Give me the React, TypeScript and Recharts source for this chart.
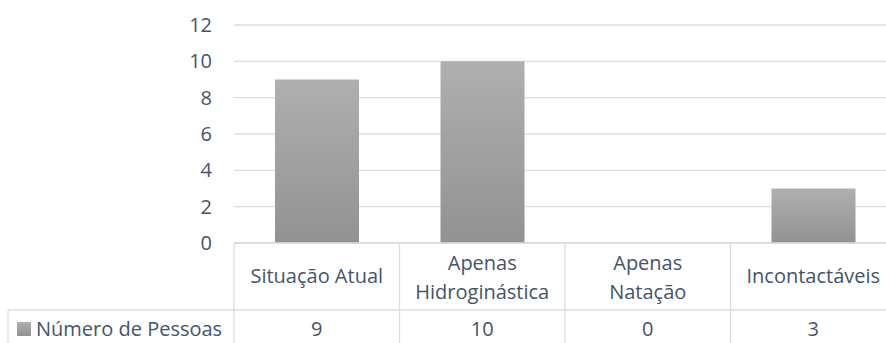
import React from 'react';
import { BarChart, Bar, XAxis, YAxis, CartesianGrid } from 'recharts';

const categories = ['Situação Atual', 'Apenas Hidroginástica', 'Apenas Natação', 'Incontactáveis'];
const tickLabels = [['Situação Atual'], ['Apenas', 'Hidroginástica'], ['Apenas', 'Natação'], ['Incontactáveis']];
const pessoas = [9, 10, 0, 3];
const yTicks = [0, 2, 4, 6, 8, 10, 12];
const seriesName = 'Número de Pessoas';

const data = categories.map((name, i) => ({ name, value: pessoas[i] }));

const FONT = '"Open Sans", sans-serif';
const TEXT = '#44546A';
const LINE = '#d9dde3';

// chart geometry
const W = 900;
const H = 343;
const MARGIN = { top: 25, right: 4, bottom: 0, left: 0 };
const Y_WIDTH = 234;
const X_HEIGHT = 100;
const TABLE_LEFT = 8;

const TableTick = (props: any) => {
  const { x, y, index } = props;
  const plotW = W - MARGIN.left - MARGIN.right - Y_WIDTH;
  const bw = plotW / categories.length;
  const left = x - bw / 2;
  const rowY = y + 67;
  const lines = tickLabels[index] || [];
  const baselines = lines.length > 1 ? [27, 56] : [40];
  return (
    <g>
      <line x1={left} y1={y} x2={left} y2={y + X_HEIGHT} stroke={LINE} strokeWidth={1.3} />
      <line x1={left} y1={rowY} x2={left + bw} y2={rowY} stroke={LINE} strokeWidth={1.3} />
      {lines.map((t: string, k: number) => (
        <text key={k} x={x} y={y + baselines[k]} textAnchor="middle" fill={TEXT} fontSize={20} fontFamily={FONT}>
          {t}
        </text>
      ))}
      <text x={x} y={y + 93} textAnchor="middle" fill={TEXT} fontSize={20} fontFamily={FONT}>
        {pessoas[index]}
      </text>
      {index === 0 && (
        <g>
          <line x1={TABLE_LEFT} y1={rowY} x2={left} y2={rowY} stroke={LINE} strokeWidth={1.3} />
          <line x1={TABLE_LEFT} y1={rowY} x2={TABLE_LEFT} y2={y + X_HEIGHT} stroke={LINE} strokeWidth={1.3} />
          <rect x={17} y={rowY + 12} width={14} height={14} fill="url(#barGrad)" />
          <text x={36} y={y + 93} fill={TEXT} fontSize={20} fontFamily={FONT}>
            {seriesName}
          </text>
        </g>
      )}
    </g>
  );
};

export default function App() {
  return (
    <div style={{ position: 'absolute', left: 0, top: 0, width: 886, height: 343, overflow: 'hidden', background: '#fff' }}>
      <BarChart width={W} height={H} data={data} margin={MARGIN}>
        <defs>
          <linearGradient id="barGrad" x1="0" y1="0" x2="0" y2="1">
            <stop offset="0%" stopColor="#afafaf" />
            <stop offset="100%" stopColor="#929292" />
          </linearGradient>
        </defs>
        <CartesianGrid vertical={false} stroke={LINE} strokeWidth={1.3} />
        <YAxis
          width={Y_WIDTH}
          domain={[0, 12]}
          ticks={yTicks}
          interval={0}
          axisLine={false}
          tickLine={false}
          tickSize={0}
          tickMargin={22}
          tick={{ fill: TEXT, fontSize: 20, fontFamily: FONT }}
        />
        <XAxis
          dataKey="name"
          height={X_HEIGHT}
          interval={0}
          axisLine={{ stroke: LINE, strokeWidth: 1.3 }}
          tickLine={false}
          tickSize={0}
          tickMargin={0}
          tick={<TableTick />}
        />
        <Bar dataKey="value" name={seriesName} fill="url(#barGrad)" barSize={84} isAnimationActive={false} />
      </BarChart>
    </div>
  );
}
